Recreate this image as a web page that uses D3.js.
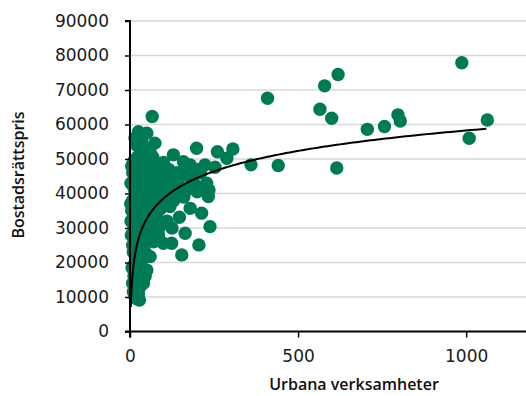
<!DOCTYPE html>
<html lang="sv">
<head>
    <meta charset="UTF-8">
    <title>Bostadsrättspris och urbana verksamheter</title>
    <script src="https://d3js.org/d3.v7.min.js"></script>
    <style>
        body { margin: 0; background: #fff; }
    </style>
</head>
<body>
    <svg id="chart" width="526" height="396"></svg>

    <script>
        // urbana verksamheter (x) och bostadsrättspris (y)
        const urbana = [
            25, 50, 35, 20, 74, 45, 15, 60, 30, 66, 10,
            5, 12, 22, 38, 55, 68, 85, 100, 129, 115, 159, 179, 223, 198, 260, 306, 288, 253, 140, 160, 200, 210, 180, 8, 28, 42, 62, 78, 95, 110, 130, 18,
            3, 10, 20, 32, 48, 58, 70, 88, 105, 125, 149, 170, 190, 228, 215, 200, 235, 15, 40, 65, 82, 233, 109, 140, 160,
            2, 8, 18, 28, 45, 55, 72, 90, 100, 119, 130, 179, 213, 147, 5, 12, 35, 62, 80,
            3, 10, 22, 38, 50, 68, 89, 238, 110, 15, 30, 55, 75, 125,
            4, 12, 20, 35, 48, 60, 99, 124, 164, 205, 8, 25, 40, 70, 85,
            154, 60, 10, 20, 30, 45, 15, 35, 50, 6, 25,
            12, 22, 35, 8, 18, 30, 10, 25, 15, 28, 20, 40, 45,
            360, 409, 441, 565, 579, 619, 600, 615, 706, 757, 797, 804, 987, 1009, 1063
        ];
        const pris = [
            57900, 57500, 55500, 54000, 54600, 53000, 56000, 52000, 51500, 62300, 48000,
            48000, 49500, 50500, 50000, 49000, 50500, 48500, 49000, 51200, 47000, 49200, 48300, 48300, 53100, 52100, 52900, 50200, 47600, 46000, 45500, 47000, 46000, 44500, 46000, 47000, 46500, 47000, 46000, 45500, 44000, 45000, 45000,
            43000, 42000, 44000, 43000, 44000, 42500, 43000, 42000, 41000, 42000, 42000, 41000, 43000, 43000, 41500, 40500, 41000, 40500, 40000, 40000, 39500, 39100, 39100, 40000, 39000,
            37000, 38000, 36500, 38500, 37500, 36000, 37000, 35500, 37000, 36200, 38000, 35700, 34300, 33100, 35000, 34000, 35000, 34000, 33000,
            32000, 31000, 32500, 31500, 33000, 31000, 30400, 30400, 32000, 29500, 30000, 29000, 29500, 30000,
            28000, 27000, 28500, 27000, 26000, 27500, 25600, 25600, 28500, 25100, 25000, 25000, 24000, 26000, 28000,
            22200, 21700, 23000, 22000, 21000, 23000, 20000, 19000, 17800, 18500, 17500,
            16000, 15000, 15500, 14000, 13000, 13000, 11500, 11000, 10000, 9100, 9500, 14000, 16000,
            48300, 67600, 48100, 64400, 71200, 74500, 61800, 47400, 58600, 59400, 62800, 61000, 77900, 56000, 61300
        ];

        const yTicks = [0, 10000, 20000, 30000, 40000, 50000, 60000, 70000, 80000, 90000];
        const xTicks = [0, 500, 1000];

        // logaritmisk trendlinje y = a*ln(x) + b
        const trendA = 8540;
        const trendB = -730;
        const trendRange = [2.5, 1060];

        const svg = d3.select("#chart");
        const margin = { top: 21, right: 0, bottom: 64.5, left: 130 };
        const width = +svg.attr("width") - margin.left - margin.right;
        const height = +svg.attr("height") - margin.top - margin.bottom;
        const g = svg.append("g").attr("transform", `translate(${margin.left},${margin.top})`);

        const x = d3.scaleLinear().domain([0, 1178]).range([0, width]);
        const y = d3.scaleLinear().domain([0, 90000]).range([height, 0]);

        // rutnät
        g.append("g")
            .selectAll("line")
            .data(yTicks.filter(d => d > 0))
            .join("line")
            .attr("x1", 0)
            .attr("x2", width)
            .attr("y1", d => y(d))
            .attr("y2", d => y(d))
            .attr("stroke", "#d9d9d9")
            .attr("stroke-width", 1.5);

        const points = urbana.map((u, i) => ({ x: u, y: pris[i] }));

        g.append("g")
            .selectAll("circle")
            .data(points)
            .join("circle")
            .attr("cx", d => x(d.x))
            .attr("cy", d => y(d.y))
            .attr("r", 6.7)
            .attr("fill", "#007a55");

        const trendX = d3.range(0, 401).map(i => trendRange[0] * Math.pow(trendRange[1] / trendRange[0], i / 400));
        const line = d3.line()
            .x(d => x(d))
            .y(d => y(trendA * Math.log(d) + trendB));

        g.append("path")
            .datum(trendX)
            .attr("fill", "none")
            .attr("stroke", "#000")
            .attr("stroke-width", 2)
            .attr("d", line);

        const yAxis = g.append("g")
            .call(d3.axisLeft(y).tickValues(yTicks).tickSize(5).tickPadding(16).tickFormat(d3.format("d")));
        const xAxis = g.append("g")
            .attr("transform", `translate(0,${height})`)
            .call(d3.axisBottom(x).tickValues(xTicks).tickSize(6).tickPadding(12).tickFormat(d3.format("d")));

        [yAxis, xAxis].forEach(a => {
            a.select(".domain").attr("stroke", "#000").attr("stroke-width", 2);
            a.selectAll(".tick line").attr("stroke", "#000").attr("stroke-width", 1.5);
            a.selectAll(".tick text")
                .style("font-size", "17px")
                .style("font-family", "DejaVu Sans")
                .attr("fill", "#1a1a1a");
        });
        yAxis.select(".domain").attr("d", `M-5,${height}H0V0H-5`);
        xAxis.select(".domain").attr("d", `M0,6V0H${width}`);

        svg.append("text")
            .attr("x", 354)
            .attr("y", 390)
            .attr("text-anchor", "middle")
            .style("font-family", "'Open Sans', sans-serif")
            .style("font-size", "16px")
            .style("font-weight", 600)
            .attr("fill", "#111")
            .text("Urbana verksamheter");

        svg.append("text")
            .attr("transform", "translate(24,175) rotate(-90)")
            .attr("text-anchor", "middle")
            .style("font-family", "'Open Sans', sans-serif")
            .style("font-size", "16px")
            .style("font-weight", 600)
            .attr("fill", "#111")
            .text("Bostadsrättspris");
    </script>
</body>
</html>
